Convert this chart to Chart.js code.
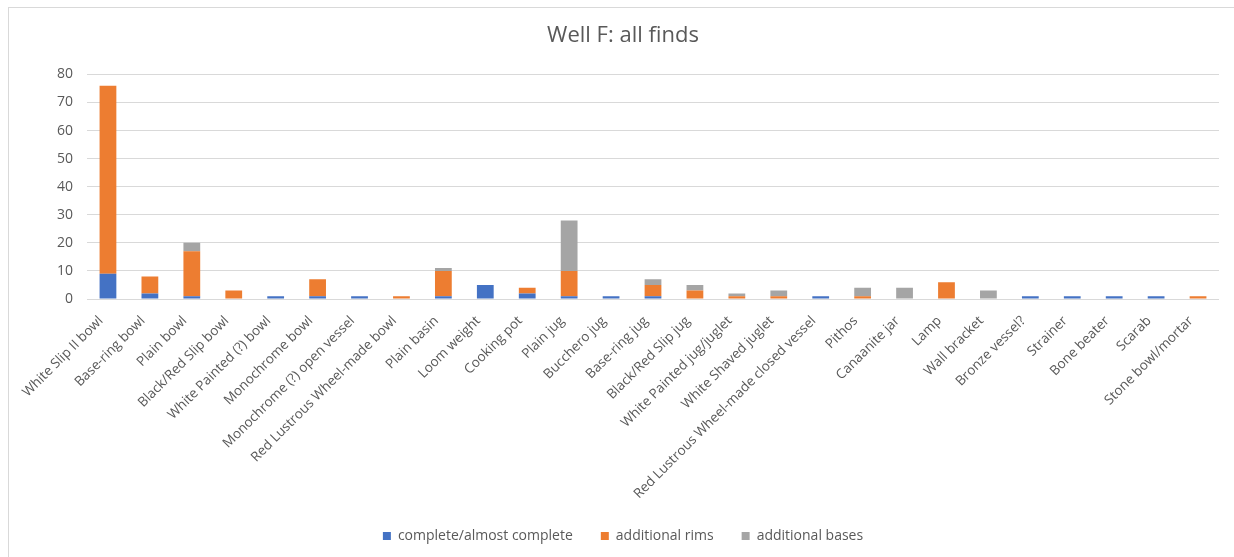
<!DOCTYPE html>
<html>
<head>
<meta charset="utf-8">
<script src="https://cdn.jsdelivr.net/npm/chart.js@4.4.1/dist/chart.umd.min.js"></script>
<style>
  html, body { margin: 0; padding: 0; background: #fff; }
  #wrap { position: relative; width: 1234px; height: 557px; overflow: hidden; }
  #frame { position: absolute; left: 8px; top: 7px; width: 1300px; height: 700px;
           border-left: 1px solid #d9d9d9; border-top: 1px solid #d9d9d9; }
  canvas { position: absolute; left: 0; top: 0; }
</style>
</head>
<body>
<div id="wrap">
  <div id="frame"></div>
  <canvas id="c" width="1234" height="557"></canvas>
</div>
<script>
const categories = [
  "White Slip II bowl", "Base-ring bowl", "Plain bowl", "Black/Red Slip bowl",
  "White Painted (?) bowl", "Monochrome bowl", "Monochrome (?) open vessel",
  "Red Lustrous Wheel-made bowl", "Plain basin", "Loom weight", "Cooking pot",
  "Plain jug", "Bucchero jug", "Base-ring jug", "Black/Red Slip jug",
  "White Painted jug/juglet", "White Shaved juglet",
  "Red Lustrous Wheel-made closed vessel", "Pithos", "Canaanite jar", "Lamp",
  "Wall bracket", "Bronze vessel?", "Strainer", "Bone beater", "Scarab",
  "Stone bowl/mortar"
];
const complete = [9, 2, 1, 0, 1, 1, 1, 0, 1, 5, 2, 1, 1, 1, 0, 0, 0, 1, 0, 0, 0, 0, 1, 1, 1, 1, 0];
const rims     = [67, 6, 16, 3, 0, 6, 0, 1, 9, 0, 2, 9, 0, 4, 3, 1, 1, 0, 1, 0, 6, 0, 0, 0, 0, 0, 1];
const bases    = [0, 0, 3, 0, 0, 0, 0, 0, 1, 0, 0, 18, 0, 2, 2, 1, 2, 0, 3, 4, 0, 3, 0, 0, 0, 0, 0];
const seriesNames = ["complete/almost complete", "additional rims", "additional bases"];
const yTicks = { min: 0, max: 80, step: 10 };

const FONT = "'Open Sans', 'Noto Sans', sans-serif";
const TXT = "#595959";

new Chart(document.getElementById('c'), {
  type: 'bar',
  data: {
    labels: categories,
    datasets: [
      { label: seriesNames[0], data: complete, backgroundColor: '#4472C4' },
      { label: seriesNames[1], data: rims, backgroundColor: '#ED7D31' },
      { label: seriesNames[2], data: bases, backgroundColor: '#A5A5A5' }
    ]
  },
  options: {
    responsive: false,
    animation: false,
    layout: { padding: { left: 12, right: 0, top: 0, bottom: 4 } },
    datasets: { bar: { categoryPercentage: 1.0, barPercentage: 0.4 } },
    plugins: {
      title: {
        display: true, text: 'Well F: all finds', color: TXT,
        font: { family: FONT, size: 22, weight: 'normal' },
        padding: { top: 23, bottom: 25 }
      },
      legend: {
        position: 'bottom',
        labels: {
          color: TXT, font: { family: FONT, size: 14 },
          boxWidth: 8, boxHeight: 8, padding: 28
        }
      },
      tooltip: { enabled: false }
    },
    scales: {
      x: {
        stacked: true,
        grid: { display: false },
        border: { display: false },
        ticks: {
          color: TXT, font: { family: FONT, size: 13.5 },
          autoSkip: false, minRotation: 45, maxRotation: 45, padding: 6, labelOffset: -7
        },
        afterFit: (s) => { s.height = 202; }
      },
      y: {
        stacked: true,
        min: yTicks.min, max: yTicks.max,
        grid: { color: '#d9d9d9', drawTicks: false },
        border: { display: false },
        ticks: {
          stepSize: yTicks.step, color: TXT,
          font: { family: FONT, size: 14 }, padding: 14
        },
        afterFit: (s) => { s.width = 75; }
      },
      yr: {
        position: 'right',
        display: true,
        grid: { display: false },
        border: { display: false },
        ticks: { display: false },
        afterFit: (s) => { s.width = 15; }
      }
    }
  }
});
</script>
</body>
</html>
